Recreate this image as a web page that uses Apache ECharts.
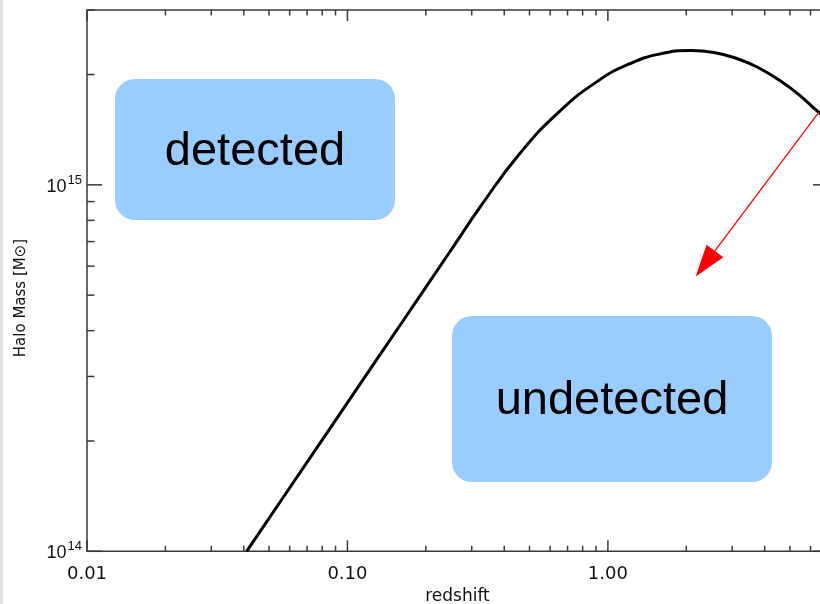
<!DOCTYPE html>
<html><head><meta charset="utf-8">
<script src="https://cdn.jsdelivr.net/npm/echarts@6/dist/echarts.min.js"></script>
<style>html,body{margin:0;padding:0;background:#fff}#c{width:820px;height:604px}</style>
</head><body><div id="c"></div>
<script>
// ---- data ----
const redshift = [0.041, 0.0628, 0.102, 0.1658, 0.2466, 0.3269, 0.4573, 0.6509, 0.926, 1.207, 1.573, 2.085, 2.555, 3.185, 3.80, 4.53, 5.41, 6.45, 7.0];
const haloMass = [1.0e14, 1.563e14, 2.598e14, 4.318e14, 6.546e14, 8.798e14, 1.214e15, 1.585e15, 1.931e15, 2.137e15, 2.274e15, 2.326e15, 2.297e15, 2.202e15, 2.084e15, 1.935e15, 1.763e15, 1.577e15, 1.510e15];
const xMajorTicks = [0.01, 0.1, 1];
const xTickLabels = ['0.01', '0.10', '1.00'];
const xMinorTicks = [0.02,0.03,0.04,0.05,0.06,0.07,0.08,0.09,0.2,0.3,0.4,0.5,0.6,0.7,0.8,0.9,2,3,4,5,6,7];
const yMajorTicks = [1e14, 1e15];
const yTickExponents = ['14', '15'];
const yMinorTicks = [2e14,3e14,4e14,5e14,6e14,7e14,8e14,9e14,2e15,3e15];
const xRange = [0.01, 7];
const yRange = [1e14, 3e15];
const arrowFrom = [6.45, 1.577e15];
const arrowTo = [2.174, 5.62e14];
const boxLabels = ['detected', 'undetected'];

function sameLog(a, b) { return Math.abs(Math.log10(a) - Math.log10(b)) < 1e-6; }

const chart = echarts.init(document.getElementById('c'));
const axisColor = '#3a3a3a';
chart.setOption({
  animation: false,
  grid: { left: 87, top: 10, width: 741, height: 541.3, outerBoundsMode: 'none', containLabel: false,
          show: true, borderColor: axisColor, borderWidth: 1.5, backgroundColor: 'transparent' },
  xAxis: {
    type: 'log', logBase: 10, min: xRange[0], max: xRange[1],
    axisLine: { show: false }, axisTick: { show: false }, splitLine: { show: false },
    axisLabel: {
      margin: 14, fontFamily: 'DejaVu Sans', fontSize: 18, color: '#111',
      formatter: v => { const i = xMajorTicks.findIndex(t => sameLog(t, v)); return i >= 0 ? xTickLabels[i] : ''; }
    },
    name: 'redshift', nameLocation: 'middle', nameGap: 44,
    nameTextStyle: { fontFamily: 'DejaVu Sans', fontSize: 17, color: '#111', verticalAlign: 'middle' }
  },
  yAxis: {
    type: 'log', logBase: 10, min: yRange[0], max: yRange[1],
    axisLine: { show: false }, axisTick: { show: false }, splitLine: { show: false },
    axisLabel: {
      margin: 5, color: '#111',
      formatter: v => { const i = yMajorTicks.findIndex(t => sameLog(t, v)); return i >= 0 ? '{b|10}{s|' + yTickExponents[i] + '}' : ''; },
      rich: {
        b: { fontFamily: 'Liberation Sans', fontSize: 18, color: '#111', lineHeight: 22, verticalAlign: 'bottom' },
        s: { fontFamily: 'Liberation Sans', fontSize: 13, color: '#111', lineHeight: 13, verticalAlign: 'top', padding: [0, 0, 0, 1] }
      }
    }
  },
  series: [{
    type: 'line', data: redshift.map((x, i) => [x, haloMass[i]]), smooth: 0.5, symbol: 'none',
    lineStyle: { color: '#000', width: 3 }, z: 3
  }]
});

function P(x, y) { return chart.convertToPixel({ gridIndex: 0 }, [x, y]); }
const g = [];
const bl = P(xRange[0], yRange[0]);
const tr = P(xRange[1], yRange[1]);
const x0 = bl[0], x1 = tr[0], y0 = bl[1], y1 = tr[1];
const tickStyle = { stroke: axisColor, lineWidth: 1.5 };
function xt(v, len) {
  const x = P(v, yRange[0])[0];
  g.push({ type: 'line', shape: { x1: x, y1: y0, x2: x, y2: y0 - len }, style: tickStyle, silent: true });
  g.push({ type: 'line', shape: { x1: x, y1: y1, x2: x, y2: y1 + len }, style: tickStyle, silent: true });
}
function yt(v, len) {
  const y = P(xRange[0], v)[1];
  g.push({ type: 'line', shape: { x1: x0, y1: y, x2: x0 + len, y2: y }, style: tickStyle, silent: true });
  g.push({ type: 'line', shape: { x1: x1, y1: y, x2: x1 - len, y2: y }, style: tickStyle, silent: true });
}
xMajorTicks.forEach(v => xt(v, 11));
xMinorTicks.forEach(v => xt(v, 5.5));
yMajorTicks.forEach(v => yt(v, 15));
yMinorTicks.forEach(v => yt(v, 7.5));

// y axis title
g.push({ type: 'text', x: 21, y: 298, rotation: Math.PI / 2,
  style: { text: 'Halo Mass [M\u2299]', fontFamily: 'DejaVu Sans', fontSize: 15, fill: '#111', align: 'center', verticalAlign: 'middle' } });

// annotation boxes
const boxFill = '#99ccff';
g.push({ type: 'rect', shape: { x: 115, y: 79, width: 280, height: 141, r: 20 }, style: { fill: boxFill }, z: 1 });
g.push({ type: 'text', x: 255, y: 152, style: { text: boxLabels[0], fontFamily: 'Liberation Sans', fontSize: 47, fill: '#000', align: 'center', verticalAlign: 'middle' }, z: 2 });
g.push({ type: 'rect', shape: { x: 452, y: 316, width: 320, height: 166, r: 20 }, style: { fill: boxFill }, z: 1 });
g.push({ type: 'text', x: 612, y: 401, style: { text: boxLabels[1], fontFamily: 'Liberation Sans', fontSize: 47, fill: '#000', align: 'center', verticalAlign: 'middle' }, z: 2 });

// red arrow
const a = P(arrowFrom[0], arrowFrom[1]), b = P(arrowTo[0], arrowTo[1]);
const dx = a[0] - b[0], dy = a[1] - b[1], d = Math.hypot(dx, dy), ux = dx / d, uy = dy / d;
const L = 32, W = 10.5;
const bm = [b[0] + ux * L, b[1] + uy * L];
g.push({ type: 'line', shape: { x1: a[0], y1: a[1], x2: bm[0], y2: bm[1] }, style: { stroke: '#ff0000', lineWidth: 1.3 }, z: 5 });
g.push({ type: 'polygon', shape: { points: [b, [bm[0] - uy * W, bm[1] + ux * W], [bm[0] + uy * W, bm[1] - ux * W]] }, style: { fill: '#ff0000' }, z: 5 });

// left page edge
g.push({ type: 'rect', shape: { x: 0, y: 0, width: 3, height: 604 }, style: { fill: '#e4e0e0' }, z: 0 });

chart.setOption({ graphic: g });
</script></body></html>
